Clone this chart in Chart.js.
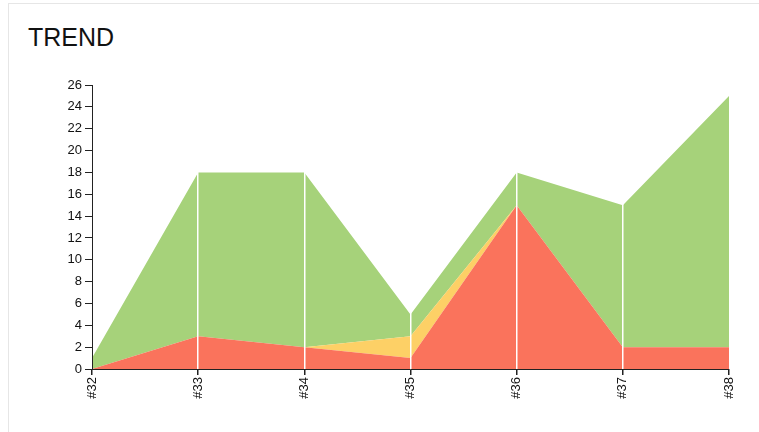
<!DOCTYPE html>
<html>
<head>
<meta charset="utf-8">
<script src="https://cdn.jsdelivr.net/npm/chart.js@4/dist/chart.umd.min.js"></script>
<style>
  html, body { margin: 0; padding: 0; background: #fff; }
  body { width: 759px; height: 432px; position: relative; overflow: hidden; font-family: "Liberation Sans", Arial, sans-serif; }
  .card { position: absolute; left: 8px; top: 3px; width: 800px; height: 500px; border: 1px solid #e6e6e6; box-sizing: border-box; }
  .title { position: absolute; left: 28px; top: 25px; font-size: 25px; line-height: 25px; color: #111; }
  #trendChart { position: absolute; left: 0; top: 0; }
</style>
</head>
<body>
<div class="card"></div>
<div class="title">TREND</div>
<canvas id="trendChart" width="759" height="432"></canvas>
<script>
// Builds, bottom to top
const builds = ['#32', '#33', '#34', '#35', '#36', '#37', '#38'];
const failed = [0, 3, 2, 1, 15, 2, 2];
const unstable = [0, 0, 0, 2, 0, 0, 0];
const passed = [1, 15, 16, 2, 3, 13, 23];

const colors = {
  failed: 'rgb(250, 115, 92)',
  unstable: 'rgb(253, 208, 102)',
  passed: 'rgb(166, 210, 122)'
};

function areaSet(label, data, color, fill) {
  return {
    label: label,
    data: data,
    backgroundColor: color,
    borderColor: color,
    borderWidth: 0,
    pointRadius: 0,
    tension: 0,
    fill: fill
  };
}

const lastIdx = builds.length - 1;
const tickFont = { family: 'Liberation Sans', size: 13 };

new Chart(document.getElementById('trendChart').getContext('2d'), {
  type: 'line',
  data: {
    labels: builds,
    datasets: [
      areaSet('Failed', failed, colors.failed, 'origin'),
      areaSet('Unstable', unstable, colors.unstable, '-1'),
      areaSet('Passed', passed, colors.passed, '-1')
    ]
  },
  options: {
    responsive: false,
    animation: false,
    layout: { padding: { left: 0, right: 30, top: 85, bottom: 0 } },
    scales: {
      x: {
        offset: false,
        grid: {
          z: 1,
          offset: false,
          color: ctx => (ctx.index === 0 || ctx.index === lastIdx) ? 'rgba(0,0,0,0)' : '#ffffff',
          lineWidth: 1.5,
          tickColor: '#222',
          tickLength: 6
        },
        border: { z: 2, color: '#222', width: 1 },
        ticks: {
          color: '#111',
          font: tickFont,
          minRotation: 90,
          maxRotation: 90,
          padding: 2
        },
        afterFit: s => { s.height = 63; }
      },
      y: {
        stacked: true,
        min: 0,
        max: 26,
        grid: {
          drawOnChartArea: false,
          tickColor: '#222',
          tickLength: 7
        },
        border: { z: 2, color: '#222', width: 1 },
        ticks: {
          stepSize: 2,
          color: '#111',
          font: tickFont,
          padding: 3
        },
        afterFit: s => { s.width = 92; }
      }
    },
    plugins: {
      legend: { display: false },
      tooltip: { enabled: false }
    }
  }
});
</script>
</body>
</html>
